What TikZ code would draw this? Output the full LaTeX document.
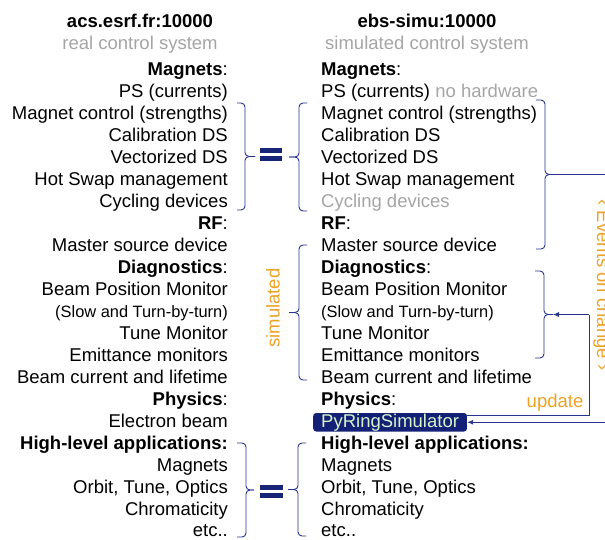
\documentclass[tikz,border=0pt]{standalone}
\usepackage{fontspec}
\setmainfont{Liberation Sans}
\usetikzlibrary{arrows.meta}
\definecolor{navy}{RGB}{40,52,140}
\definecolor{eqnavy}{RGB}{24,36,120}
\definecolor{boxnavy}{RGB}{18,32,118}
\definecolor{mint}{RGB}{214,242,204}
\definecolor{orng}{RGB}{236,162,36}
\definecolor{lgray}{RGB}{165,165,165}
% rounded brace: #1 end x, #2 spine x, #3 tip x, #4 top y, #5 bottom y
\newcommand{\myroundbrace}[5]{%
  \draw[ln, rounded corners=4pt] (#1,#4) -- (#2,#4) -- (#2,{(#4+#5)/2}) -- (#3,{(#4+#5)/2});
  \draw[ln, rounded corners=4pt] (#1,#5) -- (#2,#5) -- (#2,{(#4+#5)/2}) -- (#3,{(#4+#5)/2});}
\begin{document}
\begin{tikzpicture}[x=1pt,y=-1pt,
  every node/.style={inner sep=0pt, font=\fontsize{18.5}{22}\selectfont},
  lt/.style={anchor=base east},
  rt/.style={anchor=base west},
  ct/.style={anchor=base},
  small/.style={font=\fontsize{16.4}{20}\selectfont},
  ln/.style={navy, line width=0.9pt},
  tip/.style={-{Latex[length=6pt,width=5pt]}},
  eqbar/.style={fill=eqnavy, draw=none}]
\useasboundingbox (0,0) rectangle (605,539);

% titles
\node[ct] (tl1) at (140,27) {\bfseries acs.esrf.fr:10000};
\node[ct, lgray] (tl2) at (140,49) {real control system};
\node[ct] (tr1) at (427,27) {\bfseries ebs-simu:10000};
\node[ct, lgray] (tr2) at (427,49) {simulated control system};

% left column
\node[lt] (L0) at (228,75) {{\bfseries Magnets}:};
\node[lt] (L1) at (228,97) {PS (currents)};
\node[lt] (L2) at (228,119) {Magnet control (strengths)};
\node[lt] (L3) at (228,141) {Calibration DS};
\node[lt] (L4) at (228,163) {Vectorized DS};
\node[lt] (L5) at (228,185) {Hot Swap management};
\node[lt] (L6) at (228,207) {Cycling devices};
\node[lt] (L7) at (228,229) {{\bfseries RF}:};
\node[lt] (L8) at (228,251) {Master source device};
\node[lt] (L9) at (228,273) {{\bfseries Diagnostics}:};
\node[lt] (L10) at (228,295) {Beam Position Monitor};
\node[lt, small] (L11) at (228,317) {(Slow and Turn-by-turn)};
\node[lt] (L12) at (228,339) {Tune Monitor};
\node[lt] (L13) at (228,361) {Emittance monitors};
\node[lt] (L14) at (228,383) {Beam current and lifetime};
\node[lt] (L15) at (228,405) {{\bfseries Physics}:};
\node[lt] (L16) at (228,427) {Electron beam};
\node[lt] (L17) at (228,449) {\bfseries High-level applications:};
\node[lt] (L18) at (228,471) {Magnets};
\node[lt] (L19) at (228,493) {Orbit, Tune, Optics};
\node[lt] (L20) at (228,515) {Chromaticity};
\node[lt] (L21) at (228,536) {etc..};

% right column
\node[rt] (R0) at (321,75) {{\bfseries Magnets}:};
\node[rt] (R1) at (321,97) {PS (currents) \textcolor{lgray}{no hardware}};
\node[rt] (R2) at (321,119) {Magnet control (strengths)};
\node[rt] (R3) at (321,141) {Calibration DS};
\node[rt] (R4) at (321,163) {Vectorized DS};
\node[rt] (R5) at (321,185) {Hot Swap management};
\node[rt, lgray] (R6) at (321,207) {Cycling devices};
\node[rt] (R7) at (321,229) {{\bfseries RF}:};
\node[rt] (R8) at (321,251) {Master source device};
\node[rt] (R9) at (321,273) {{\bfseries Diagnostics}:};
\node[rt] (R10) at (321,295) {Beam Position Monitor};
\node[rt, small] (R11) at (321,317) {(Slow and Turn-by-turn)};
\node[rt] (R12) at (321,339) {Tune Monitor};
\node[rt] (R13) at (321,361) {Emittance monitors};
\node[rt] (R14) at (321,383) {Beam current and lifetime};
\node[rt] (R15) at (321,405) {{\bfseries Physics}:};
\node[anchor=base west, fill=boxnavy, text=mint, rounded corners=3pt,
      inner xsep=8pt, inner ysep=0.5pt, text height=13.5pt, text depth=4pt]
      (pyring) at (313,427) {PyRingSimulator};
\node[rt] (R17) at (321,449) {\bfseries High-level applications:};
\node[rt] (R18) at (321,471) {Magnets};
\node[rt] (R19) at (321,493) {Orbit, Tune, Optics};
\node[rt] (R20) at (321,515) {Chromaticity};
\node[rt] (R21) at (321,536) {etc..};

% rotated labels
\node[orng, rotate=90] (sim) at (273,308) {simulated};
\node[orng, rotate=-90] (ev) at (602,285) {‹ Events on change ›};
\node[ct, orng] (upd) at (555,407) {update};

% braces
\myroundbrace{237}{245}{255}{103}{210}
\myroundbrace{307}{299}{289}{103}{211}
\myroundbrace{237}{246}{254}{443}{537}
\myroundbrace{306}{298}{288}{443}{536}
\myroundbrace{307}{299}{289}{245}{380}
\myroundbrace{536}{545}{554}{100}{249}
\myroundbrace{535}{544}{553}{271}{358}

% equal signs
\fill[eqbar] (260,148) rectangle (282,153);
\fill[eqbar] (260,156) rectangle (282,161);
\fill[eqbar] (260,485) rectangle (283,490);
\fill[eqbar] (260,493) rectangle (283,498);

% connectors
\coordinate (magtip) at (554,174.5);
\coordinate (evtop) at (607,174.5);
\coordinate (diagtip) at (553,314.5);
\coordinate (updc) at (589,314.5);
\path (pyring.east) ++(140,0) coordinate (evbot);
\draw[ln] (magtip) -- (evtop);
\draw[ln, tip] (evbot) -- (pyring.east);
\draw[ln] ([yshift=7pt]pyring.east) -| (updc);
\draw[ln, tip] (updc) -- (diagtip);
\end{tikzpicture}
\end{document}
